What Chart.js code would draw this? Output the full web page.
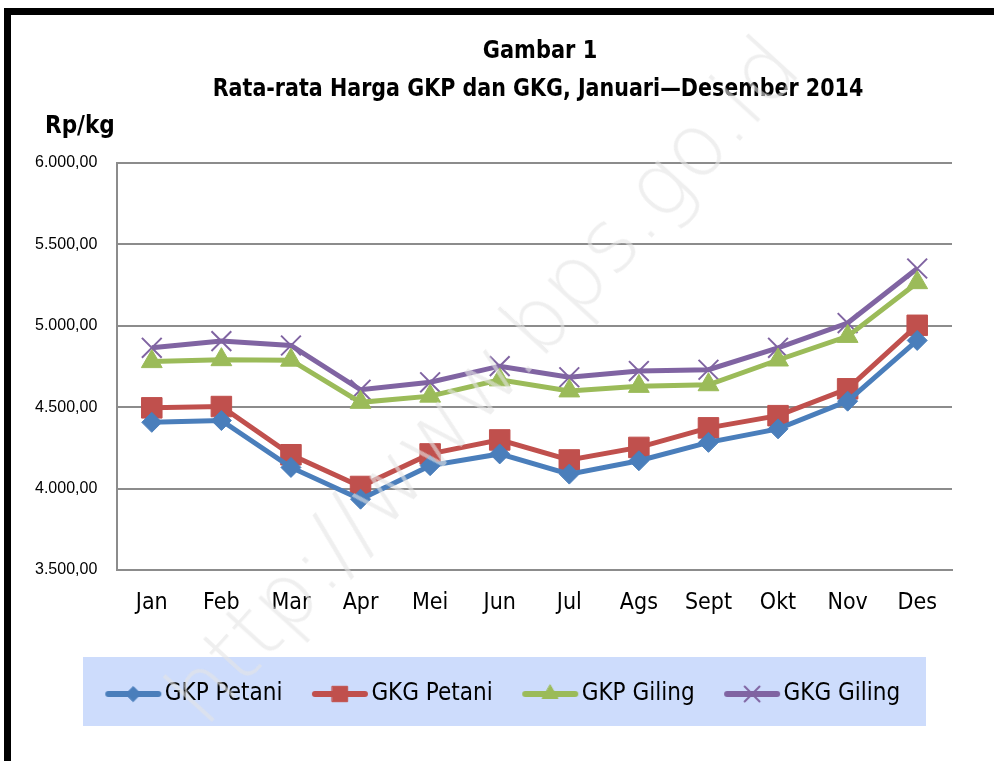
<!DOCTYPE html>
<html>
<head>
<meta charset="utf-8">
<script src="https://cdn.jsdelivr.net/npm/chart.js@4/dist/chart.umd.min.js"></script>
<style>
  html, body { margin: 0; padding: 0; background: #fff; }
  #wrap { position: relative; width: 994px; height: 761px; overflow: hidden; }
  #frame { position: absolute; left: 4px; top: 8px; width: 1200px; height: 1000px;
           border-left: 7px solid #000; border-top: 7px solid #000; }
  #legendBg { position: absolute; left: 83px; top: 657px; width: 843px; height: 69px; background: #cddcfc; }
  #chart { position: absolute; left: 0; top: 0; }
  .t { position: absolute; white-space: nowrap; color: #000; font-weight: bold;
       font-family: "Liberation Sans Narrow", "DejaVu Sans Condensed", sans-serif; }
  #t1 { left: 540px; top: 36px; transform: translateX(-50%) scaleX(0.97); font-size: 24px; }
  #t2 { left: 538px; top: 74px; transform: translateX(-50%) scaleX(0.956); font-size: 24px; }
  #unit { left: 45px; top: 111px; font-size: 24px; }
  #wm { position: absolute; left: 215px; top: 640px; transform-origin: 0 100%; line-height: 1;
        font-family: "DejaVu Sans ExtraLight", "DejaVu Sans", sans-serif; font-weight: 200; font-size: 98px;
        color: rgba(228,228,228,0.6); white-space: nowrap; pointer-events: none; }
</style>
</head>
<body>
<div id="wrap">
  <div id="frame"></div>
  <div id="legendBg"></div>
  <canvas id="chart" width="994" height="761"></canvas>
  <div class="t" id="t1">Gambar 1</div>
  <div class="t" id="t2">Rata-rata Harga GKP dan GKG, Januari—Desember 2014</div>
  <div class="t" id="unit">Rp/kg</div>
  <div id="wm">http://www.bps.go.id</div>
</div>
<script>
// Data
const months = ['Jan', 'Feb', 'Mar', 'Apr', 'Mei', 'Jun', 'Jul', 'Ags', 'Sept', 'Okt', 'Nov', 'Des'];
const gkpPetani = [4407, 4418, 4130, 3935, 4141, 4213, 4089, 4171, 4284, 4367, 4537, 4910];
const gkgPetani = [4496, 4504, 4208, 4013, 4213, 4299, 4176, 4253, 4373, 4448, 4613, 5003];
const gkpGiling = [4780, 4792, 4789, 4530, 4568, 4668, 4600, 4628, 4638, 4790, 4935, 5265];
const gkgGiling = [4865, 4906, 4879, 4607, 4653, 4752, 4684, 4722, 4730, 4865, 5017, 5352];
const yMin = 3500, yMax = 6000, yStep = 500;

const narrow = '"Liberation Sans Narrow", "DejaVu Sans Condensed", sans-serif';
const gridColor = '#8c8c8c';

// watermark: diputar dan diskalakan sepanjang diagonal
const wm = document.getElementById('wm');
const wmScale = 890 / wm.offsetWidth;
wm.style.transform = 'rotate(-47.7deg) scale(' + wmScale + ')';

function fmt(v) {
  // format Indonesia: 6.000,00
  const s = Math.round(v).toString().replace(/\B(?=(\d{3})+(?!\d))/g, '.');
  return s + ',00';
}

function legendIcon(color, style, radius) {
  const c = document.createElement('canvas');
  c.width = 58; c.height = 26;
  const ctx = c.getContext('2d');
  ctx.strokeStyle = color;
  ctx.lineWidth = 6;
  ctx.lineCap = 'round';
  ctx.beginPath();
  ctx.moveTo(4, 13);
  ctx.lineTo(54, 13);
  ctx.stroke();
  ctx.fillStyle = color;
  ctx.lineWidth = style === 'crossRot' ? 2 : 1;
  Chart.helpers.drawPoint(ctx, { pointStyle: style, radius: radius, borderWidth: ctx.lineWidth, rotation: 0 }, 29, 13);
  return c;
}

function series(label, data, color, style, radius) {
  return {
    label: label,
    data: data,
    borderColor: color,
    backgroundColor: color,
    borderWidth: 5,
    pointStyle: style,
    pointRadius: radius,
    pointBorderWidth: style === 'crossRot' ? 2 : 1,
    pointBorderColor: color,
    pointBackgroundColor: color,
    tension: 0,
    icon: legendIcon(color, style, radius * 0.75)
  };
}

const datasets = [
  series('GKP Petani', gkpPetani, '#4a7ebb', 'rectRot', 10),
  series('GKG Petani', gkgPetani, '#c0504d', 'rect', 14.5),
  series('GKP Giling', gkpGiling, '#9bbb59', 'triangle', 12),
  series('GKG Giling', gkgGiling, '#8064a2', 'crossRot', 14)
];

new Chart(document.getElementById('chart'), {
  type: 'line',
  data: { labels: months, datasets: datasets },
  options: {
    responsive: false,
    animation: false,
    layout: { padding: { left: 62, right: 42, top: 163, bottom: 45 } },
    plugins: {
      title: { display: false },
      tooltip: { enabled: false },
      legend: {
        position: 'bottom',
        labels: {
          usePointStyle: true,
          pointStyleWidth: 39,
          padding: 38,
          color: '#000',
          font: { family: narrow, size: 24 },
          generateLabels: (chart) => chart.data.datasets.map((ds, i) => ({
            text: ds.label,
            pointStyle: ds.icon,
            fillStyle: ds.borderColor,
            strokeStyle: ds.borderColor,
            lineWidth: 0,
            datasetIndex: i,
            hidden: false
          }))
        }
      }
    },
    scales: {
      x: {
        offset: true,
        grid: { display: false, drawTicks: false },
        border: { display: true, color: gridColor, width: 2 },
        ticks: { color: '#000', padding: 19, font: { family: narrow, size: 23 } },
        afterFit: (scale) => { scale.height = 74; }
      },
      y: {
        min: yMin,
        max: yMax,
        grid: { color: gridColor, lineWidth: 2, drawTicks: false },
        border: { display: true, color: gridColor, width: 2 },
        ticks: {
          stepSize: yStep,
          color: '#000',
          mirror: true,
          padding: -82,
          font: { family: '"Liberation Sans", Arial, sans-serif', size: 16 },
          callback: (v) => fmt(v)
        },
        afterFit: (scale) => { scale.width = 55; }
      }
    }
  }
});
</script>
</body>
</html>
